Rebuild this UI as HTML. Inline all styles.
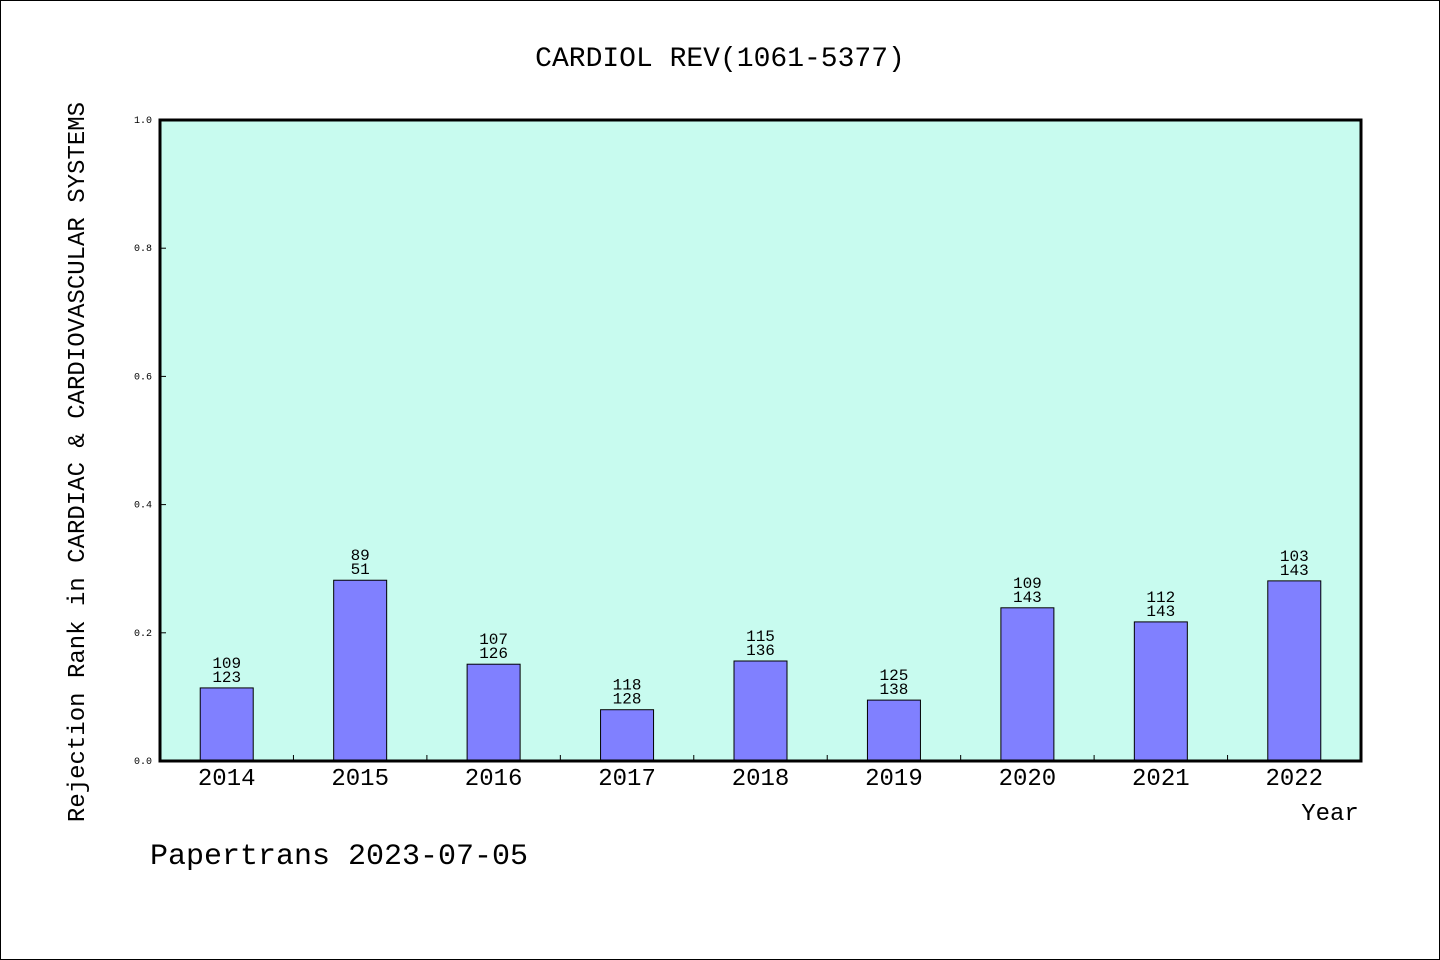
<!DOCTYPE html>
<html><head><meta charset="utf-8"><style>
body{margin:0;background:#fff}
svg{display:block;font-family:"WenQuanYi Zen Hei Mono","Liberation Mono",monospace}
</style></head><body>
<svg id="c" width="1440" height="960">
<rect x="0.5" y="0.5" width="1439" height="959" fill="#fff" stroke="#000"/>
<text x="720" y="66" text-anchor="middle" font-size="28">CARDIOL REV(1061-5377)</text>
<rect x="160" y="120" width="1201" height="641" fill="#c8fbef"/>
<g id="g"></g>
<rect x="160" y="120" width="1201" height="641" fill="none" stroke="#000" stroke-width="3"/>
<text x="1330" y="820" text-anchor="middle" font-size="24">Year</text>
<text transform="translate(84,462) rotate(-90)" text-anchor="middle" font-size="24">Rejection Rank in CARDIAC &amp; CARDIOVASCULAR SYSTEMS</text>
<text x="150" y="864" font-size="30">Papertrans 2023-07-05</text>
</svg>
<script>
const years=["2014","2015","2016","2017","2018","2019","2020","2021","2022"];
const values=[0.114,0.282,0.151,0.080,0.156,0.095,0.239,0.217,0.281];
const topLabels=["109","89","107","118","115","125","109","112","103"];
const bottomLabels=["123","51","126","128","136","138","143","143","143"];
const yTicks=[0,0.2,0.4,0.6,0.8,1.0];
const NS="http://www.w3.org/2000/svg";
const g=document.getElementById('g');
const X0=160,W=1201,Y0=761,H=641;
const band=W/years.length;
const xs=i=>X0+band*(i+0.5);
const ys=v=>Y0-v*H;
function mk(t,a,txt){const e=document.createElementNS(NS,t);for(const k in a)e.setAttribute(k,a[k]);if(txt!==undefined)e.textContent=txt;g.appendChild(e);return e;}
yTicks.forEach(v=>{
 const l=mk('line',{x1:160,x2:166,y1:ys(v),y2:ys(v),stroke:'#000'});
 
 
 const t=mk('text',{x:152,y:ys(v)+3,'text-anchor':'end','font-size':10},v.toFixed(1));
 
 
});
for(let i=1;i<years.length;i++){
 const l=mk('line',{x1:X0+band*i,x2:X0+band*i,y1:Y0,y2:Y0-6,stroke:'#000'});
 
 
}
years.forEach((y,i)=>{
 const cx=xs(i),bw=53,top=ys(values[i]);
 const r=mk('rect',{x:cx-bw/2,y:top,width:bw,height:Y0-top,fill:'#8080ff',stroke:'#000','stroke-width':1});
 
 
 const t1=mk('text',{x:cx,y:top-20,'text-anchor':'middle','font-size':16},topLabels[i]);
 
 
 const t2=mk('text',{x:cx,y:top-6,'text-anchor':'middle','font-size':16},bottomLabels[i]);
 
 
 const xl=mk('text',{x:cx,y:785,'text-anchor':'middle','font-size':24},y);
 
 
});
</script>
</body></html>
